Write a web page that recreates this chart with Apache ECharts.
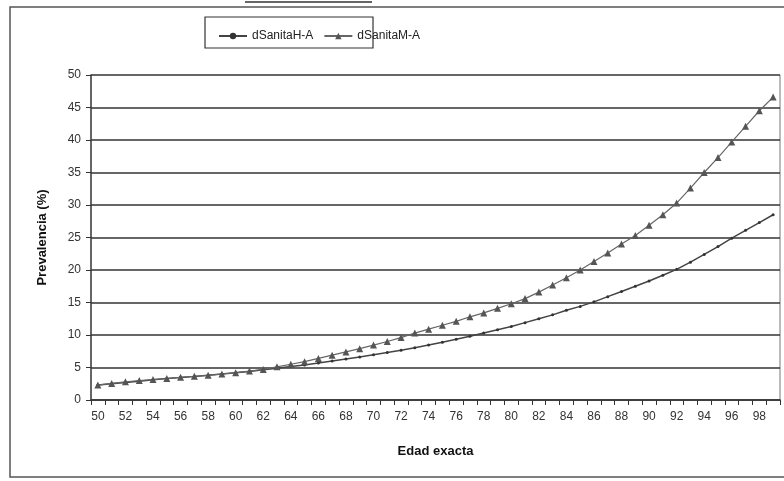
<!DOCTYPE html>
<html lang="es">
<head>
	<meta charset="UTF-8">
	<title>Prevalencia por edad</title>
	<style>
		body, div {
			margin: 0;
			padding: 0;
		}
		#main {
			width: 784px;
			height: 481px;
			background: #fff;
		}
	</style>
</head>
<body>
	<div id="main"></div>

	<script src="https://cdn.jsdelivr.net/npm/echarts@6/dist/echarts.min.js"></script>

	<script>
    // edades 50..99
    var edades = [];
    for (var e = 50; e <= 99; e++) edades.push(String(e));

    // dSanitaH-A (hombres)
    var sanitaH = [
        2.3, 2.5, 2.7, 2.9, 3.1, 3.3, 3.45, 3.6, 3.8, 4.0,
        4.2, 4.4, 4.65, 4.9, 5.15, 5.4, 5.7, 6.0, 6.3, 6.6,
        6.95, 7.3, 7.65, 8.05, 8.45, 8.9, 9.35, 9.8, 10.3, 10.8,
        11.3, 11.9, 12.5, 13.1, 13.8, 14.4, 15.1, 15.9, 16.7, 17.5,
        18.3, 19.2, 20.1, 21.2, 22.4, 23.6, 24.9, 26.1, 27.3, 28.5
    ];

    // dSanitaM-A (mujeres)
    var sanitaM = [
        2.3, 2.55, 2.8, 3.0, 3.15, 3.3, 3.5, 3.65, 3.8, 4.0,
        4.2, 4.45, 4.7, 5.1, 5.5, 5.9, 6.4, 6.9, 7.4, 7.9,
        8.45, 9.0, 9.6, 10.3, 10.9, 11.5, 12.1, 12.8, 13.4, 14.1,
        14.8, 15.6, 16.6, 17.7, 18.8, 20.0, 21.3, 22.6, 24.0, 25.3,
        26.9, 28.5, 30.3, 32.6, 35.0, 37.3, 39.7, 42.1, 44.5, 46.6
    ];

    var myEcharts = echarts.init(document.getElementById('main'));

    var options = {
        animation: false,
        backgroundColor: '#fff',
        textStyle: { fontFamily: 'Liberation Sans, Arial, sans-serif' },
        graphic: [
            // marco exterior del grafico
            {
                type: 'rect',
                shape: { x: 10, y: 7, width: 790, height: 470 },
                style: { fill: 'none', stroke: '#555', lineWidth: 1.5 }
            },
            // titulo cortado arriba
            {
                type: 'line',
                shape: { x1: 245, y1: 2, x2: 372, y2: 2 },
                style: { stroke: '#333', lineWidth: 1.5 }
            },
            // caja de la leyenda
            {
                type: 'rect',
                shape: { x: 205, y: 17, width: 168, height: 31 },
                style: { fill: 'none', stroke: '#333', lineWidth: 1.2 }
            },
            // borde derecho del area de trazado
            {
                type: 'line',
                shape: { x1: 780, y1: 75, x2: 780, y2: 400 },
                style: { stroke: '#777', lineWidth: 1 }
            }
        ],
        legend: {
            top: 25,
            left: 213,
            itemGap: 10,
            itemWidth: 28,
            itemHeight: 8,
            textStyle: { fontSize: 12, color: '#222' },
            data: ['dSanitaH-A', 'dSanitaM-A']
        },
        grid: {
            left: 91,
            right: 4,
            top: 75,
            bottom: 81
        },
        xAxis: {
            type: 'category',
            data: edades,
            boundaryGap: true,
            name: 'Edad exacta',
            nameLocation: 'middle',
            nameGap: 45,
            nameTextStyle: { fontSize: 13, fontWeight: 'bold', color: '#111' },
            axisLine: { lineStyle: { color: '#333', width: 1.5 } },
            axisTick: { show: true, length: 5, interval: 0, lineStyle: { color: '#333' } },
            axisLabel: { interval: 1, fontSize: 12, color: '#333', margin: 11 },
            splitLine: { show: false }
        },
        yAxis: {
            type: 'value',
            min: 0,
            max: 50,
            interval: 5,
            name: 'Prevalencia (%)',
            nameLocation: 'middle',
            nameGap: 42,
            nameRotate: 90,
            nameTextStyle: { fontSize: 13, fontWeight: 'bold', color: '#111' },
            axisLine: { show: true, lineStyle: { color: '#333', width: 1.5 } },
            axisTick: { show: true, length: 5, lineStyle: { color: '#333' } },
            axisLabel: { fontSize: 12, color: '#333', margin: 10 },
            splitLine: { lineStyle: { color: '#333', width: 1.5 } }
        },
        series: [
            {
                name: 'dSanitaH-A',
                type: 'line',
                data: sanitaH,
                symbol: 'circle',
                symbolSize: 3,
                itemStyle: { color: '#333' },
                lineStyle: { color: '#444', width: 1.5 }
            },
            {
                name: 'dSanitaM-A',
                type: 'line',
                data: sanitaM,
                symbol: 'triangle',
                symbolSize: 7,
                itemStyle: { color: '#555' },
                lineStyle: { color: '#666', width: 1.2 }
            }
        ]
    };

    myEcharts.setOption(options);
	</script>

</body>
</html>
